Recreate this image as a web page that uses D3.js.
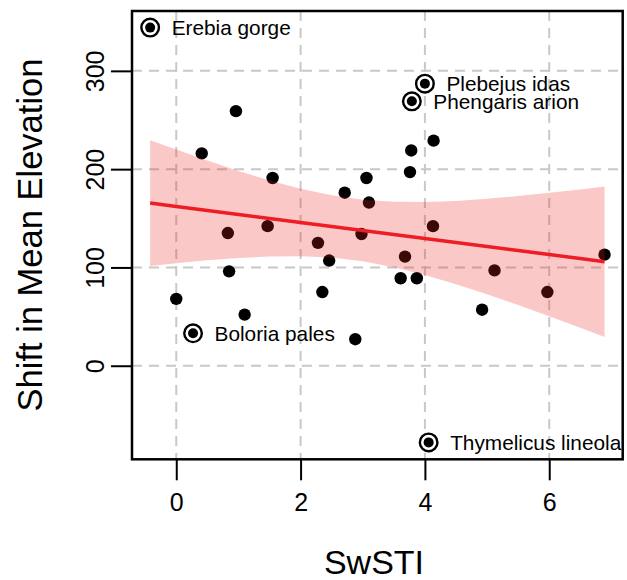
<!DOCTYPE html>
<html><head><meta charset="utf-8">
<script src="https://cdn.jsdelivr.net/npm/d3@7"></script>
<style>body{margin:0;background:#fff}svg{display:block}text{font-family:"Liberation Sans",Arial,sans-serif}</style>
</head><body><div id="chart"></div>
<script>
// Species points (SwSTI, shift in mean elevation)
const swsti = [0.96,0.41,1.55,0.83,1.47,2.28,0.85,0.00,1.10,2.35,4.14,3.78,3.76,3.06,2.71,3.10,4.13,2.98,2.46,3.68,3.61,3.87,2.88,4.92,5.12,5.97,6.89];
const shift = [259,216,191,135,142,125,96,68,52,75,229,219,197,191,176,166,142,134,107,111,89,89,27,57,97,75,113];
// Highlighted species
const labelNames = ["Erebia gorge","Plebejus idas","Phengaris arion","Boloria pales","Thymelicus lineola"];
const labelX = [-0.42,4.00,3.79,0.27,4.06];
const labelY = [344,287,269,33,-78];
// Fitted line and confidence band
const fitX = [-0.42,0,0.5,1,1.5,2,2.5,3,3.5,4,4.5,5,5.5,6,6.5,6.89];
const fitY = [165.5,162.1,158.0,153.9,149.8,145.8,141.7,137.6,133.5,129.4,125.3,121.3,117.2,113.1,109.0,105.8];
const bandUpper = [229.5,219.9,208.8,198.2,188.5,180.1,173.4,168.9,166.8,166.5,167.7,169.9,172.7,175.9,179.4,182.3];
const bandLower = [101.5,104.3,107.2,109.6,111.1,111.5,110.0,106.3,100.2,92.3,82.9,72.7,61.7,50.3,38.6,29.3];
const xTicks = [0,2,4,6];
const yTicks = [0,100,200,300];

const W = 627, H = 580;
const L = 132, T = 11, R = 622.7, B = 459.3;
const svg = d3.select("#chart").append("svg").attr("width", W).attr("height", H);
const x = d3.scaleLinear().domain([-0.712, 7.182]).range([L, R]);
const y = d3.scaleLinear().domain([-95.2, 360.9]).range([B, T]);

// grid
const grid = svg.append("g").attr("stroke", "#c8c8c8").attr("stroke-width", 2).attr("stroke-dasharray", "10,7");
grid.selectAll(".gx").data(xTicks).join("line").attr("x1", d => x(d)).attr("x2", d => x(d)).attr("y1", T).attr("y2", B);
grid.selectAll(".gy").data(yTicks).join("line").attr("y1", d => y(d)).attr("y2", d => y(d)).attr("x1", L).attr("x2", R);

// points
const pts = swsti.map((v, i) => ({x: v, y: shift[i]}));
svg.append("g").selectAll("circle").data(pts).join("circle")
  .attr("cx", d => x(d.x)).attr("cy", d => y(d.y)).attr("r", 6.2).attr("fill", "#000");

// band
const band = fitX.map((v, i) => ({x: v, u: bandUpper[i], l: bandLower[i], f: fitY[i]}));
svg.append("path").datum(band)
  .attr("d", d3.area().x(d => x(d.x)).y0(d => y(d.l)).y1(d => y(d.u)))
  .attr("fill", "#ee2222").attr("fill-opacity", 0.25);
svg.append("path").datum(band)
  .attr("d", d3.line().x(d => x(d.x)).y(d => y(d.f)))
  .attr("fill", "none").attr("stroke", "#ee1c24").attr("stroke-width", 3.5);

// labelled species
const lab = labelNames.map((n, i) => ({n, x: labelX[i], y: labelY[i]}));
const lg = svg.append("g").selectAll("g").data(lab).join("g")
  .attr("transform", d => `translate(${x(d.x)},${y(d.y)})`);
lg.append("circle").attr("r", 8.8).attr("fill", "#fff").attr("stroke", "#000").attr("stroke-width", 2.4);
lg.append("circle").attr("r", 5).attr("fill", "#000");
lg.append("text").attr("x", 21.5).attr("dy", "0.35em").attr("font-size", 20.8).attr("fill", "#000").text(d => d.n);

// frame
svg.append("rect").attr("x", L).attr("y", T).attr("width", R - L).attr("height", B - T)
  .attr("fill", "none").attr("stroke", "#000").attr("stroke-width", 2.5);

// axes
const xa = svg.append("g").attr("transform", `translate(0,${B})`)
  .call(d3.axisBottom(x).tickValues(xTicks).tickSize(21).tickPadding(13).tickFormat(d3.format("d")));
const ya = svg.append("g").attr("transform", `translate(${L},0)`)
  .call(d3.axisLeft(y).tickValues(yTicks).tickSize(21).tickFormat(d3.format("d")));
[xa, ya].forEach(a => {
  a.select(".domain").remove();
  a.selectAll(".tick line").attr("stroke", "#000").attr("stroke-width", 2);
  a.selectAll("text").attr("font-size", 25).attr("fill", "#000").attr("font-family", '"Liberation Sans",Arial,sans-serif');
});
ya.selectAll(".tick text").attr("x", null).attr("dy", null).attr("text-anchor", "middle")
  .attr("transform", "translate(-28,0) rotate(-90)");

// titles
svg.append("text").attr("x", 374).attr("y", 574).attr("text-anchor", "middle").attr("font-size", 34).text("SwSTI");
svg.append("text").attr("transform", "translate(42,235) rotate(-90)").attr("text-anchor", "middle").attr("font-size", 34.5).text("Shift in Mean Elevation");
</script></body></html>
